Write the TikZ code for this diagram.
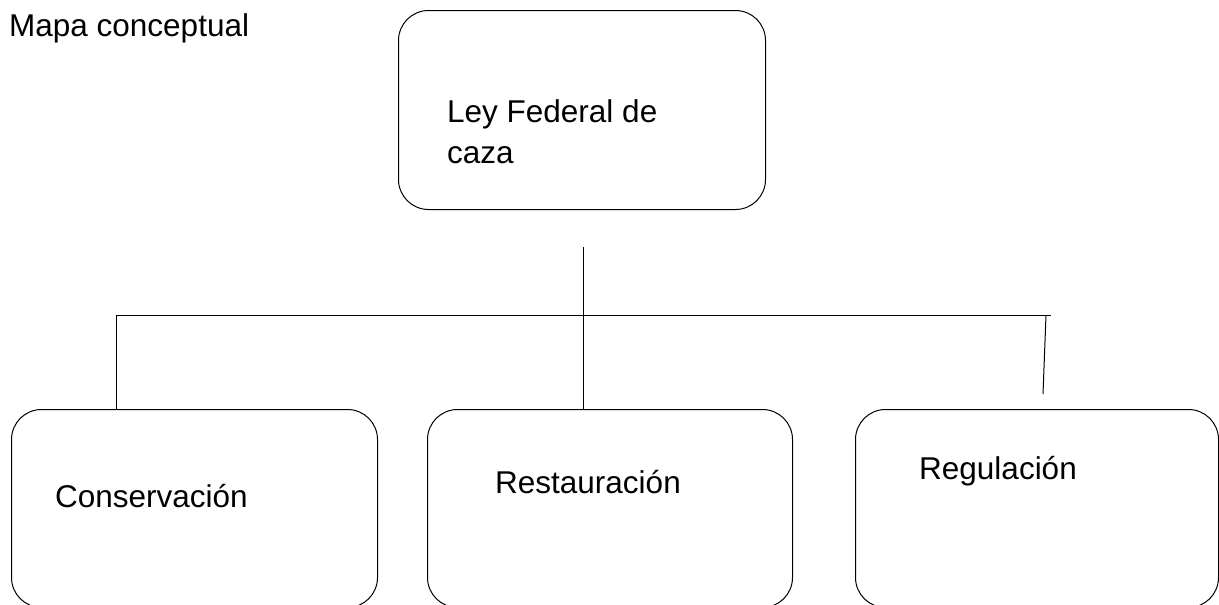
\documentclass[tikz,border=0pt]{standalone}
\usepackage{fontspec}
\setmainfont{Liberation Sans}
\begin{document}
\begin{tikzpicture}[x=1pt,y=-1pt,
  conceptbox/.style={draw=black, line width=1pt, rounded corners=30pt},
  label/.style={anchor=base west, inner sep=0pt, font=\fontsize{31.5}{41}\selectfont, align=left},
  link/.style={draw=black, line width=1pt}]
\useasboundingbox (0,0) rectangle (1219,605);
\clip (0,0) rectangle (1219,605);
% boxes
\node[conceptbox, minimum width=367pt, minimum height=199pt, anchor=north west] (ley) at (398,10) {};
\node[conceptbox, minimum width=366pt, minimum height=198pt, anchor=north west] (cons) at (11,409) {};
\node[conceptbox, minimum width=365pt, minimum height=198pt, anchor=north west] (rest) at (427,409) {};
\node[conceptbox, minimum width=363pt, minimum height=198pt, anchor=north west] (reg) at (855,409) {};
% texts
\node[label] (title) at (9,36) {Mapa conceptual};
\node[label] (leyt) at (447,163) {Ley Federal de\\caza};
\node[label] (const) at (55,507) {Conservación};
\node[label] (restt) at (495,493) {Restauración};
\node[label] (regt) at (919,479) {Regulación};
% connectors
\coordinate (stemtop) at (583,247);
\coordinate (barleft) at (116,315);
\coordinate (barright) at (1051,315);
\coordinate (slanttop) at (1046,315);
\coordinate (slantbot) at (1043,394);
\draw[link] (stemtop) -- (stemtop |- rest.north);
\draw[link] (barleft) -- (barright);
\draw[link] (barleft) -- (barleft |- cons.north);
\draw[link] (slanttop) -- (slantbot);
\end{tikzpicture}
\end{document}
